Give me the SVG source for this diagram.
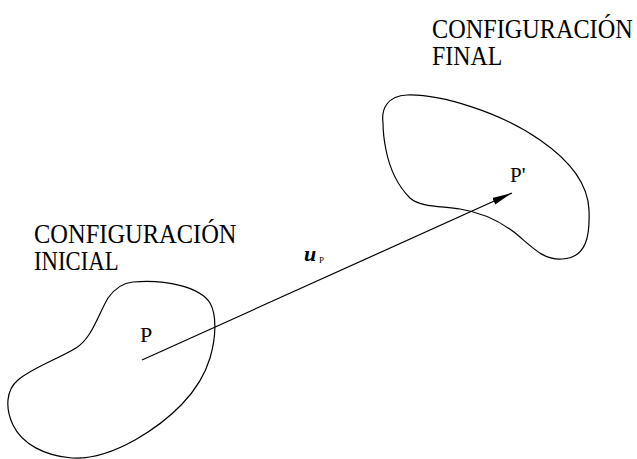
<svg xmlns="http://www.w3.org/2000/svg" width="637" height="459" viewBox="0 0 637 459">
<style>
.blob{fill:none;stroke:#000;stroke-width:1.2}
.lbl{font-family:"Liberation Serif","Times New Roman",serif;fill:#000}
.big{font-size:27px}
</style>
<defs>
<marker id="arr" viewBox="0 0 20 8" refX="20" refY="4" markerWidth="20" markerHeight="8" markerUnits="userSpaceOnUse" orient="auto">
<path d="M0,0.5 L20,4 L0,7.5 Z" fill="#000"/>
</marker>
</defs>
<rect width="637" height="459" fill="#fff"/>
<g id="inicial">
<path class="blob" d="M133,282 C165,279 200,287 210,303 C217,315 216,338 210,358 C200,392 170,420 135,440 C110,454 90,459 72,458 C45,456 22,444 13,425 C5,408 6,390 18,380 C32,368 58,359 76,348 C92,338 98,315 108,298 C115,288 123,283 133,282 Z"/>
<text class="lbl big" transform="translate(34,243) scale(0.9,1)"><tspan x="0" y="0" textLength="225" lengthAdjust="spacingAndGlyphs">CONFIGURACIÓN</tspan><tspan x="0" y="27" textLength="94" lengthAdjust="spacingAndGlyphs">INICIAL</tspan></text>
<text class="lbl" x="140" y="342" font-size="22">P</text>
</g>
<g id="final">
<path class="blob" d="M383,123 C381,108 388,96 407,95 C440,94 500,112 540,140 C572,162 588,185 589,210 C590,235 587,258 562,259 C545,260 535,250 520,237 C505,224 485,213 460,209 C440,206 420,207 410,198 C398,186 390,170 386,150 C384,140 383,131 383,123 Z"/>
<text class="lbl big" transform="translate(432,38) scale(0.9,1)"><tspan x="0" y="0" textLength="223" lengthAdjust="spacingAndGlyphs">CONFIGURACIÓN</tspan><tspan x="0" y="27" textLength="78" lengthAdjust="spacingAndGlyphs">FINAL</tspan></text>
<text class="lbl" x="510" y="182" font-size="21">P'</text>
</g>
<g id="connectors">
<line x1="142" y1="360" x2="512" y2="193" stroke="#000" stroke-width="1.2" marker-end="url(#arr)"/>
<text class="lbl" x="304" y="261" font-size="22" font-weight="bold" font-style="italic">u</text>
<text class="lbl" x="319" y="263" font-size="9">P</text>
</g>
</svg>
